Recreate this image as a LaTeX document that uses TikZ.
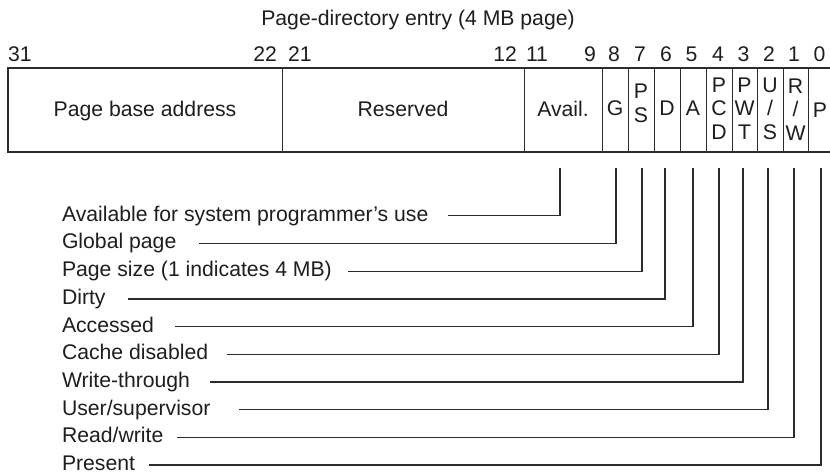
\documentclass[tikz,border=0pt]{standalone}
\usepackage{fontspec}
\setmainfont{Liberation Sans}
\definecolor{ink}{HTML}{1E1E1E}
\definecolor{ink2}{HTML}{2C2C2C}
\tikzset{
  txt/.style={inner sep=0pt, outer sep=0pt, text=ink, font=\fontsize{21.2bp}{23.5bp}\selectfont},
  celltxt/.style={txt, anchor=base},
  stack/.style={txt, anchor=center, align=center},
  bitnum/.style={txt, anchor=base},
  lbl/.style={txt, anchor=base west},
  frameline/.style={draw=ink2, line width=2bp},
  divider/.style={draw=ink2, line width=1bp},
  leader/.style={draw=ink2, line width=1.3bp},
}
\begin{document}
\begin{tikzpicture}[x=1bp,y=-1bp]
\clip (0,0) rectangle (830,475);
\fill[white] (0,0) rectangle (830,475);

% title
\node[txt, anchor=base] (title) at (418,26) {Page-directory entry (4 MB page)};

% bit numbers
\node[txt, anchor=base west] (b31) at (8,62) {31};
\node[txt, anchor=base east] (b22) at (277,62) {22};
\node[txt, anchor=base west] (b21) at (288,62) {21};
\node[txt, anchor=base east] (b12) at (517,62) {12};
\node[txt, anchor=base west] (b11) at (526,62) {11};
\node[txt, anchor=base east] (b9) at (596,62) {9};
\node[bitnum] (b8) at (614,62) {8};
\node[bitnum] (b7) at (640,62) {7};
\node[bitnum] (b6) at (666,62) {6};
\node[bitnum] (b5) at (691.5,62) {5};
\node[bitnum] (b4) at (718,62) {4};
\node[bitnum] (b3) at (743.5,62) {3};
\node[bitnum] (b2) at (769,62) {2};
\node[bitnum] (b1) at (794,62) {1};
\node[bitnum] (b0) at (819.5,62) {0};

% register box
\foreach \x in {282,524,602,628,654,680,706,732,757,783,808}
  \draw[divider] (\x,68) -- (\x,152);
\draw[frameline] (845,68) -- (8,68) -- (8,152) -- (845,152);

% field contents
\node[celltxt] (fbase) at (145,116.5) {Page base address};
\node[celltxt] (fres) at (403,116.5) {Reserved};
\node[celltxt] (favail) at (563,116.5) {Avail.};
\node[celltxt] (fG) at (615,115.5) {G};
\node[stack] (fPS) at (641,103.5) {P\\S};
\node[celltxt] (fD) at (667,116) {D};
\node[celltxt] (fA) at (693,116) {A};
\node[stack] (fPCD) at (719,108.5) {P\\C\\D};
\node[stack] (fPWT) at (744.5,108.5) {P\\W\\T};
\node[stack] (fUS) at (770,108.5) {U\\/\\S};
\node[stack] (fRW) at (795.5,109.5) {R\\/\\W};
\node[celltxt] (fP) at (820,117.5) {P};

% labels
\node[lbl] (l1) at (62,221.3) {Available for system programmer’s use};
\node[lbl] (l2) at (62,249.0) {Global page};
\node[lbl] (l3) at (62,276.7) {Page size (1 indicates 4 MB)};
\node[lbl] (l4) at (62,304.4) {Dirty};
\node[lbl] (l5) at (62,332.1) {Accessed};
\node[lbl] (l6) at (62,359.8) {Cache disabled};
\node[lbl] (l7) at (62,387.5) {Write-through};
\node[lbl] (l8) at (62,415.2) {User/supervisor};
\node[lbl] (l9) at (62,442.9) {Read/write};
\node[lbl] (l10) at (62,470.4) {Present};

% leader endpoints
\coordinate (t1) at (560,168);   \coordinate (e1) at (448,215.8);
\coordinate (t2) at (616,168);   \coordinate (e2) at (199,243.5);
\coordinate (t3) at (642,168);   \coordinate (e3) at (348,271.2);
\coordinate (t4) at (665,168);   \coordinate (e4) at (128,298.9);
\coordinate (t5) at (693,168);   \coordinate (e5) at (175,326.6);
\coordinate (t6) at (719,168);   \coordinate (e6) at (227,354.3);
\coordinate (t7) at (743,168);   \coordinate (e7) at (210,382.0);
\coordinate (t8) at (768,168);   \coordinate (e8) at (239,409.7);
\coordinate (t9) at (794,168);   \coordinate (e9) at (177,437.4);
\coordinate (t10) at (821,168);  \coordinate (e10) at (149,464.9);

\foreach \i in {1,...,10}
  \draw[leader] (t\i) |- (e\i);
\end{tikzpicture}
\end{document}
